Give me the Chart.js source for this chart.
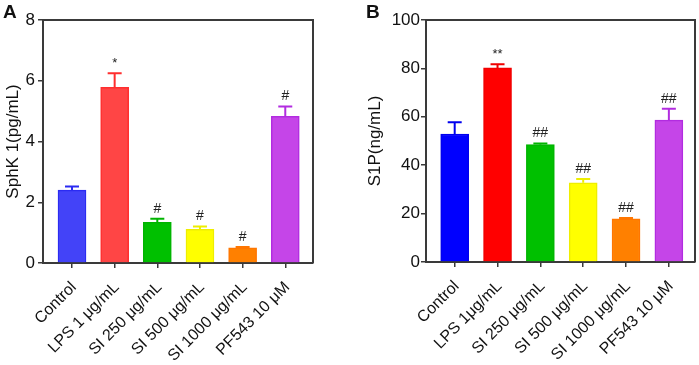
<!DOCTYPE html>
<html>
<head>
<meta charset="utf-8">
<script src="https://cdn.jsdelivr.net/npm/chart.js@4.4.1/dist/chart.umd.min.js"></script>
<style>
body { margin: 0; background: #fff; width: 699px; height: 365px; overflow: hidden; position: relative; font-family: "Liberation Sans", Arial, sans-serif; }
.panel { position: absolute; top: 0; height: 365px; }
#panelA { left: 0; width: 350px; }
#panelB { left: 350px; width: 349px; }
.tag { position: absolute; font-weight: bold; font-size: 19px; line-height: 19px; color: #111; }
</style>
</head>
<body>
<div class="panel" id="panelA"><canvas id="chartA" width="350" height="365"></canvas></div>
<div class="panel" id="panelB"><canvas id="chartB" width="349" height="365"></canvas></div>
<div class="tag" style="left:3px;top:2px">A</div>
<div class="tag" style="left:366px;top:2px">B</div>
<script>
const groupsA = ['Control', 'LPS 1 μg/mL', 'SI 250 μg/mL', 'SI 500 μg/mL', 'SI 1000 μg/mL', 'PF543 10 μM'];
const groupsB = ['Control', 'LPS 1μg/mL', 'SI 250 μg/mL', 'SI 500 μg/mL', 'SI 1000 μg/mL', 'PF543 10 μM'];

const sphk = [2.4, 5.78, 1.34, 1.11, 0.5, 4.83];
const sphkSd = [0.12, 0.47, 0.12, 0.09, 0.03, 0.32];
const marksA = ['', '*', '#', '#', '#', '#'];

const s1p = [52.9, 80.2, 48.5, 32.7, 17.8, 58.6];
const s1pSd = [4.8, 1.5, 0.5, 1.6, 0.4, 4.7];
const marksB = ['', '**', '##', '##', '##', '##'];

const fillA = ['#4343f8', '#ff4545', '#00c000', '#ffff00', '#ff8000', '#c545e8'];
const lineA = ['#2b2bf2', '#ff2e2e', '#00b400', '#eeee00', '#ff7600', '#b22ce0'];
const fillB = ['#0000ff', '#ff0000', '#00c000', '#ffff00', '#ff8000', '#c545e8'];
const lineB = ['#0000ee', '#f00000', '#00b400', '#eeee00', '#ff7600', '#b22ce0'];

const axisColor = '#3a3a3a';
const font = 'Liberation Sans, Arial, sans-serif';

// upper error bar + significance marks, plus the frame on top/right
const errorBars = {
    id: 'errorBars',
    afterDatasetsDraw(chart, args, o) {
        const ctx = chart.ctx;
        const xs = chart.scales.x, ys = chart.scales.y;
        const area = chart.chartArea;
        ctx.save();
        o.means.forEach((m, i) => {
            const px = xs.getPixelForValue(i);
            const base = ys.getPixelForValue(m);
            const top = ys.getPixelForValue(m + o.sd[i]);
            ctx.strokeStyle = o.colors[i];
            ctx.lineWidth = 2;
            ctx.beginPath();
            ctx.moveTo(px, base);
            ctx.lineTo(px, top);
            ctx.moveTo(px - 7, top);
            ctx.lineTo(px + 7, top);
            ctx.stroke();
            if (o.marks[i]) {
                ctx.fillStyle = '#222';
                ctx.font = (o.marks[i].indexOf('*') >= 0 ? '13px ' : '14px ') + font;
                ctx.textAlign = 'center';
                ctx.textBaseline = 'bottom';
                ctx.fillText(o.marks[i], px, top - 3);
            }
        });
        ctx.strokeStyle = axisColor;
        ctx.lineWidth = 2;
        ctx.beginPath();
        ctx.moveTo(area.left, area.top);
        ctx.lineTo(area.right, area.top);
        ctx.lineTo(area.right, area.bottom);
        ctx.stroke();
        ctx.restore();
    }
};

function makeChart(id, cfg) {
    const data = cfg.values.map((v, i) => ({x: i, y: v}));
    return new Chart(document.getElementById(id), {
        type: 'bar',
        data: {
            datasets: [{
                data: data,
                backgroundColor: cfg.fill,
                borderColor: cfg.line,
                borderWidth: 1.5,
                barThickness: 28
            }]
        },
        plugins: [errorBars],
        options: {
            responsive: false,
            animation: false,
            layout: {padding: {top: 20, right: cfg.padRight, left: 0, bottom: 0}},
            plugins: {
                legend: {display: false},
                tooltip: {enabled: false},
                errorBars: {means: cfg.values, sd: cfg.sd, marks: cfg.marks, colors: cfg.line}
            },
            scales: {
                x: {
                    type: 'linear',
                    offset: false,
                    min: cfg.xMin,
                    max: cfg.xMax,
                    afterBuildTicks: (s) => { s.ticks = cfg.groups.map((g, i) => ({value: i})); },
                    afterFit: (s) => { s.height = 365 - cfg.bottom; s.paddingLeft = 0; s.paddingRight = 0; },
                    border: {display: true, color: axisColor, width: 2},
                    grid: {offset: false, drawOnChartArea: false, drawTicks: true, tickLength: 5, color: axisColor, lineWidth: 1.5},
                    ticks: {
                        autoSkip: false,
                        maxRotation: 45,
                        minRotation: 45,
                        padding: 10,
                        labelOffset: 2,
                        color: '#111',
                        font: {family: font, size: 16},
                        callback: (v) => cfg.groups[v]
                    }
                },
                y: {
                    min: 0,
                    max: cfg.yMax,
                    afterBuildTicks: (s) => { s.ticks = cfg.yTicks.map(v => ({value: v})); },
                    afterFit: (s) => { s.width = cfg.left; },
                    border: {display: true, color: axisColor, width: 2},
                    grid: {drawOnChartArea: false, drawTicks: true, tickLength: 5, color: axisColor, lineWidth: 1.5},
                    ticks: {padding: cfg.tickPad, color: '#111', font: {family: font, size: 17}},
                    title: {
                        display: true,
                        text: cfg.title,
                        color: '#111',
                        font: {family: font, size: 17},
                        padding: {top: cfg.titlePad, bottom: 0}
                    }
                }
            }
        }
    });
}

makeChart('chartA', {
    groups: groupsA, values: sphk, sd: sphkSd, marks: marksA,
    fill: fillA, line: lineA, title: 'SphK 1(pg/mL)',
    yMax: 8, yTicks: [0, 2, 4, 6, 8],
    xMin: -0.68, xMax: 5.65,
    left: 43, bottom: 263, padRight: 37, tickPad: 3, titlePad: 3
});

makeChart('chartB', {
    groups: groupsB, values: s1p, sd: s1pSd, marks: marksB,
    fill: fillB, line: lineB, title: 'S1P(ng/mL)',
    yMax: 100, yTicks: [0, 20, 40, 60, 80, 100],
    xMin: -0.67, xMax: 5.61,
    left: 76, bottom: 262, padRight: 4, tickPad: 1, titlePad: 15
});
</script>
</body>
</html>
